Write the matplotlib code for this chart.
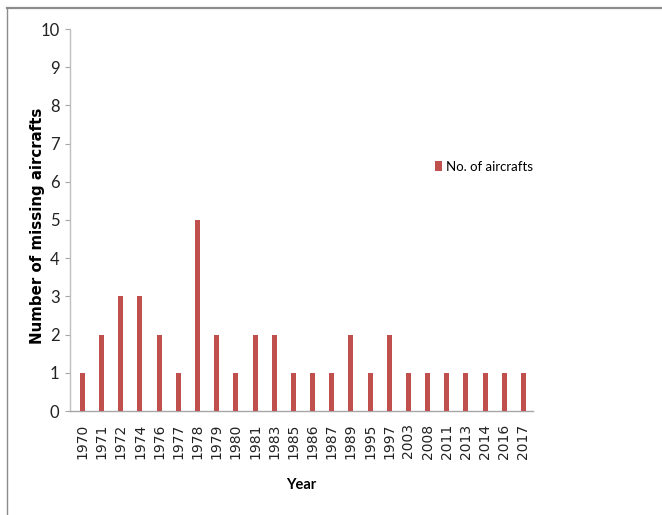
import matplotlib
matplotlib.use("Agg")
import matplotlib.pyplot as plt
from matplotlib.lines import Line2D
import numpy as np

years = ["1970", "1971", "1972", "1974", "1976", "1977", "1978", "1979", "1980",
         "1981", "1983", "1985", "1986", "1987", "1989", "1995", "1997", "2003",
         "2008", "2011", "2013", "2014", "2016", "2017"]
aircrafts = [1, 2, 3, 3, 2, 1, 5, 2, 1, 2, 2, 1, 1, 1, 2, 1, 2, 1, 1, 1, 1, 1, 1, 1]
y_ticks = list(range(0, 11))

narrow = ["Lato", "DejaVu Sans"]

fig = plt.figure(figsize=(6.62, 5.15), dpi=100)
ax = fig.add_axes([70 / 662, 1 - 411 / 515, 463 / 662, 382 / 515])

x = np.arange(len(years))
ax.bar(x, aircrafts, width=0.26, color="#C0504D", label="No. of aircrafts", zorder=3)

ax.set_xlim(-0.65, len(years) - 0.5)
ax.set_ylim(0, 10)
ax.set_yticks(y_ticks)
ax.set_yticklabels([str(t) for t in y_ticks], fontfamily=narrow, fontsize=12, color="#222222")
ax.set_xticks(x)
ax.set_xticklabels(years, rotation=90, fontfamily="DejaVu Sans", fontsize=10, color="#222222")
ax.tick_params(axis="x", length=0, pad=9)
ax.tick_params(axis="y", length=3.5, width=0.8, color="#A6A6A6", pad=4)

for s in ["top", "right"]:
    ax.spines[s].set_visible(False)
ax.spines["left"].set_color("#BFBFBF")
ax.spines["bottom"].set_color("#A6A6A6")
ax.spines["left"].set_linewidth(1.0)
ax.spines["bottom"].set_linewidth(1.0)

ax.set_ylabel("Number of missing aircrafts", fontfamily="DejaVu Sans", fontweight="bold",
              fontsize=10.8)
ax.yaxis.set_label_coords((45 - 70) / 463, 0.485)
ax.set_xlabel("Year", fontfamily=narrow, fontweight="bold", fontsize=10.5)
ax.xaxis.set_label_coords(0.5, -(485 - 411) / 382)
ax.xaxis.label.set_va("center")

ax.legend(loc="center left", bbox_to_anchor=(0.762, 0.64), frameon=False,
          prop={"family": narrow, "size": 9.5}, handlelength=0.55, handleheight=0.9,
          handletextpad=0.3)

# outer chart border (top and left visible)
fig.add_artist(Line2D([7 / 662, 1.0], [1 - 8 / 515, 1 - 8 / 515], color="#8C8C8C",
                      linewidth=1.6, transform=fig.transFigure))
fig.add_artist(Line2D([7 / 662, 7 / 662], [0, 1 - 8 / 515], color="#8C8C8C",
                      linewidth=1.0, transform=fig.transFigure))

fig.savefig("out.png", dpi=100)
